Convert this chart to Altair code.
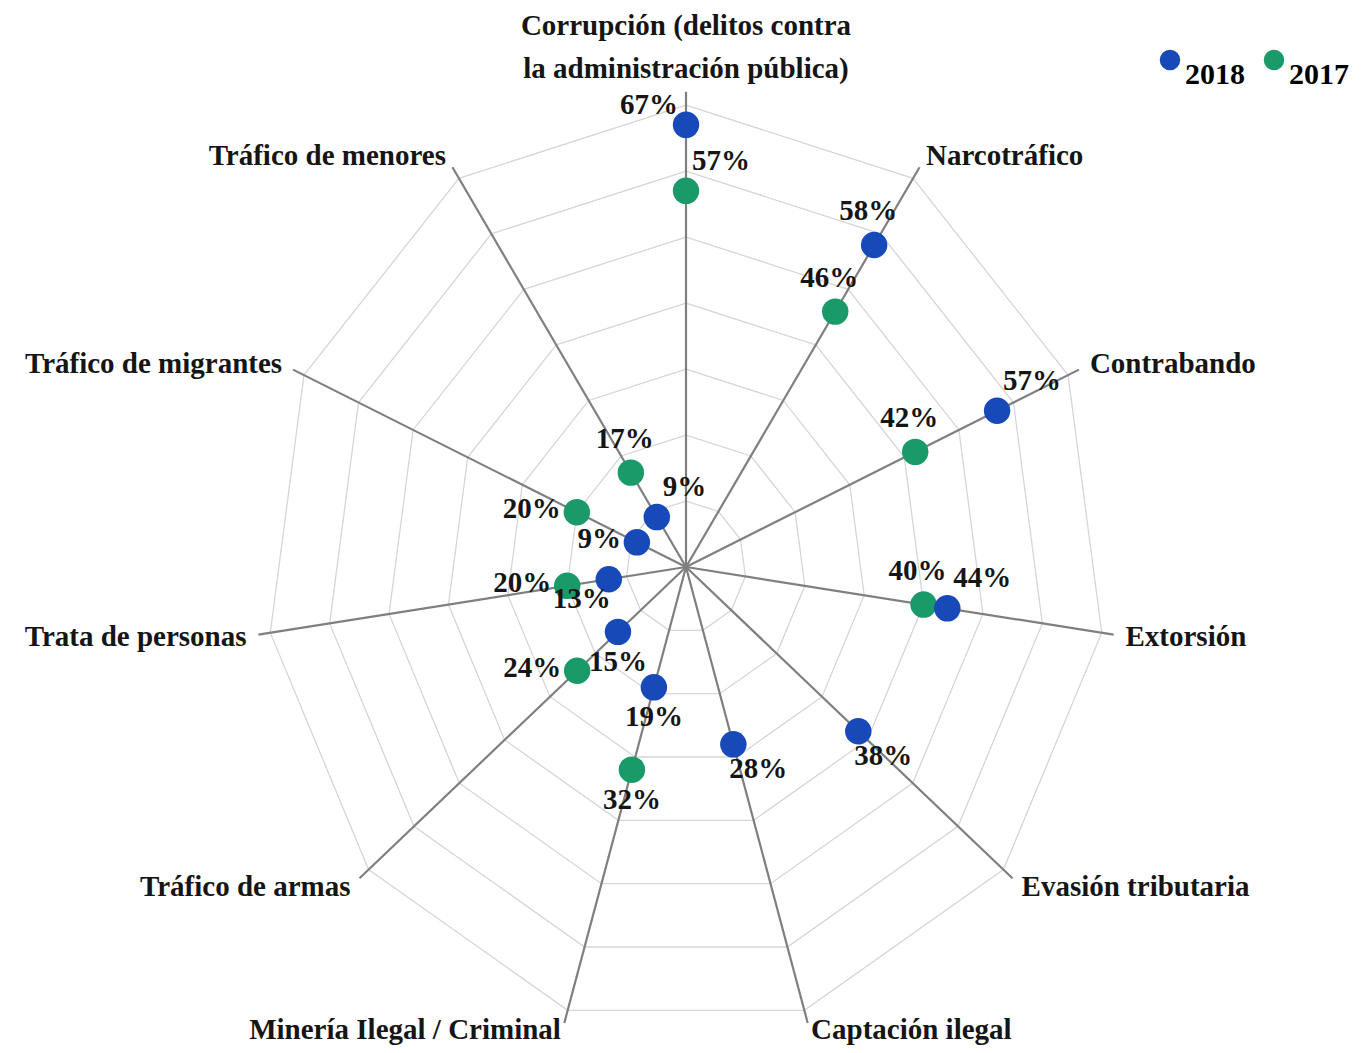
import altair as alt
import pandas as pd

# ---------------- data ----------------
categories = [
    "Corrupción (delitos contra\nla administración pública)",
    "Narcotráfico",
    "Contrabando",
    "Extorsión",
    "Evasión tributaria",
    "Captación ilegal",
    "Minería Ilegal / Criminal",
    "Tráfico de armas",
    "Trata de personas",
    "Tráfico de migrantes",
    "Tráfico de menores",
]
values_2018 = [0.67, 0.58, 0.57, 0.44, 0.38, 0.28, 0.19, 0.15, 0.13, 0.09, 0.09]
values_2017 = [0.57, 0.46, 0.42, 0.40, None, None, 0.32, 0.24, 0.20, 0.20, 0.17]
years = ["2018", "2017"]
grid_levels = [0.1, 0.2, 0.3, 0.4, 0.5, 0.6, 0.7]

# label placement codes (style only)
place_2018 = ["ul", "above", "ur", "ur", "lr", "lr", "below", "below", "ll", "left", "ur"]
place_2017 = ["ur", "above", "above", "above", None, None, "below", "left", "left", "left", "above"]

BLUE = "#1749B8"
GREEN = "#1B9A69"
FONT = "Liberation Serif"
TXT = "#151515"
N = len(categories)

W, H = 1347, 1037
xscale = alt.Scale(domain=[-1.13, 1.115], nice=False, zero=False)
yscale = alt.Scale(domain=[-0.7242, 0.847], nice=False, zero=False)

ANG = f"datum.i * 2 * PI / {N}"

# ---------------- tables ----------------
grid_df = pd.DataFrame(
    [{"level": lv, "i": i} for lv in grid_levels for i in range(N + 1)]
)
cat_df = pd.DataFrame({"i": list(range(N)), "cat": categories})

rows = []
for year, vals, places, ordv in [("2017", values_2017, place_2017, 0),
                                 ("2018", values_2018, place_2018, 1)]:
    for i, v in enumerate(vals):
        if v is None:
            continue
        rows.append({"i": i, "year": year, "value": v,
                     "label": f"{round(v * 100)}%", "pos": places[i], "ord": ordv})
pts_df = pd.DataFrame(rows)

X = lambda f: alt.X(f"{f}:Q", scale=xscale, axis=None)
Y = lambda f: alt.Y(f"{f}:Q", scale=yscale, axis=None)

# ---------------- layers ----------------
rings = alt.Chart(grid_df).transform_calculate(
    x=f"datum.level * sin({ANG})", y=f"datum.level * cos({ANG})"
).mark_line(color="#d6d6d6", strokeWidth=1.3).encode(
    x=X("x"), y=Y("y"), detail="level:N", order="i:Q"
)

spokes = alt.Chart(cat_df).transform_calculate(
    x0="0", y0="0",
    x1=f"0.72 * sin({ANG})", y1=f"0.72 * cos({ANG})"
).mark_rule(color="#7f7f7f", strokeWidth=2.2).encode(
    x=X("x0"), y=Y("y0"), x2="x1:Q", y2="y1:Q"
)

pts_base = alt.Chart(pts_df).transform_calculate(
    x=f"datum.value * sin({ANG})", y=f"datum.value * cos({ANG})"
)

points = pts_base.mark_circle(size=700, opacity=1).encode(
    x=X("x"), y=Y("y"),
    color=alt.Color(
        "year:N",
        scale=alt.Scale(domain=years, range=[BLUE, GREEN]),
        legend=alt.Legend(
            title=None, orient="none", legendX=1147, legendY=37,
            direction="horizontal", symbolType="circle", symbolSize=420,
            symbolStrokeWidth=0, labelFont=FONT, labelFontSize=30,
            labelFontWeight="bold", labelColor="black", labelBaseline="top",
            labelOffset=0, columnPadding=14, padding=0,
        ),
    ),
    order="ord:Q",
)

placements = {
    "above": dict(align="center", dx=-6, dy=-34),
    "below": dict(align="center", dx=0, dy=30),
    "left": dict(align="right", dx=-16, dy=-3),
    "ul": dict(align="right", dx=-8, dy=-20),
    "ur": dict(align="left", dx=6, dy=-30),
    "lr": dict(align="left", dx=-4, dy=25),
    "ll": dict(align="right", dx=2, dy=20),
}

value_labels = []
for code, kw in placements.items():
    value_labels.append(
        pts_base.transform_filter(f"datum.pos == '{code}'").mark_text(
            font=FONT, fontSize=29, fontWeight="bold", color=TXT,
            baseline="middle", **kw
        ).encode(x=X("x"), y=Y("y"), text="label:N")
    )

cat_base = alt.Chart(cat_df).transform_calculate(
    s=f"sin({ANG})", c=f"cos({ANG})",
    x=f"0.74 * sin({ANG})", y=f"0.74 * cos({ANG})"
)
cat_style = dict(font=FONT, fontSize=29, fontWeight="bold", color=TXT)
cat_right = cat_base.transform_filter("datum.s > 0.05 && datum.c > -0.9").mark_text(
    align="left", baseline="middle", **cat_style
).encode(x=X("x"), y=Y("y"), text="cat:N")
cat_left = cat_base.transform_filter("datum.s < -0.05 && datum.c > -0.9").mark_text(
    align="right", baseline="middle", **cat_style
).encode(x=X("x"), y=Y("y"), text="cat:N")
cat_bottom_r = cat_base.transform_filter("datum.s > 0.05 && datum.c <= -0.9").mark_text(
    align="left", baseline="middle", dy=-6, **cat_style
).encode(x=X("x"), y=Y("y"), text="cat:N")
cat_bottom_l = cat_base.transform_filter("datum.s < -0.05 && datum.c <= -0.9").mark_text(
    align="right", baseline="middle", dy=-6, **cat_style
).encode(x=X("x"), y=Y("y"), text="cat:N")
cat_top = cat_base.transform_filter("abs(datum.s) <= 0.05").mark_text(
    align="center", baseline="bottom", lineBreak="\n", lineHeight=43, dy=-38,
    **cat_style
).encode(x=X("x"), y=Y("y"), text="cat:N")

chart = alt.layer(
    rings, spokes, points, *value_labels,
    cat_right, cat_left, cat_bottom_r, cat_bottom_l, cat_top
).properties(
    width=W, height=H,
    autosize=alt.AutoSizeParams(type="none"),
    padding=0,
).configure_view(stroke=None)

chart.save("out.html", embed_options={"renderer": "svg", "actions": False})
